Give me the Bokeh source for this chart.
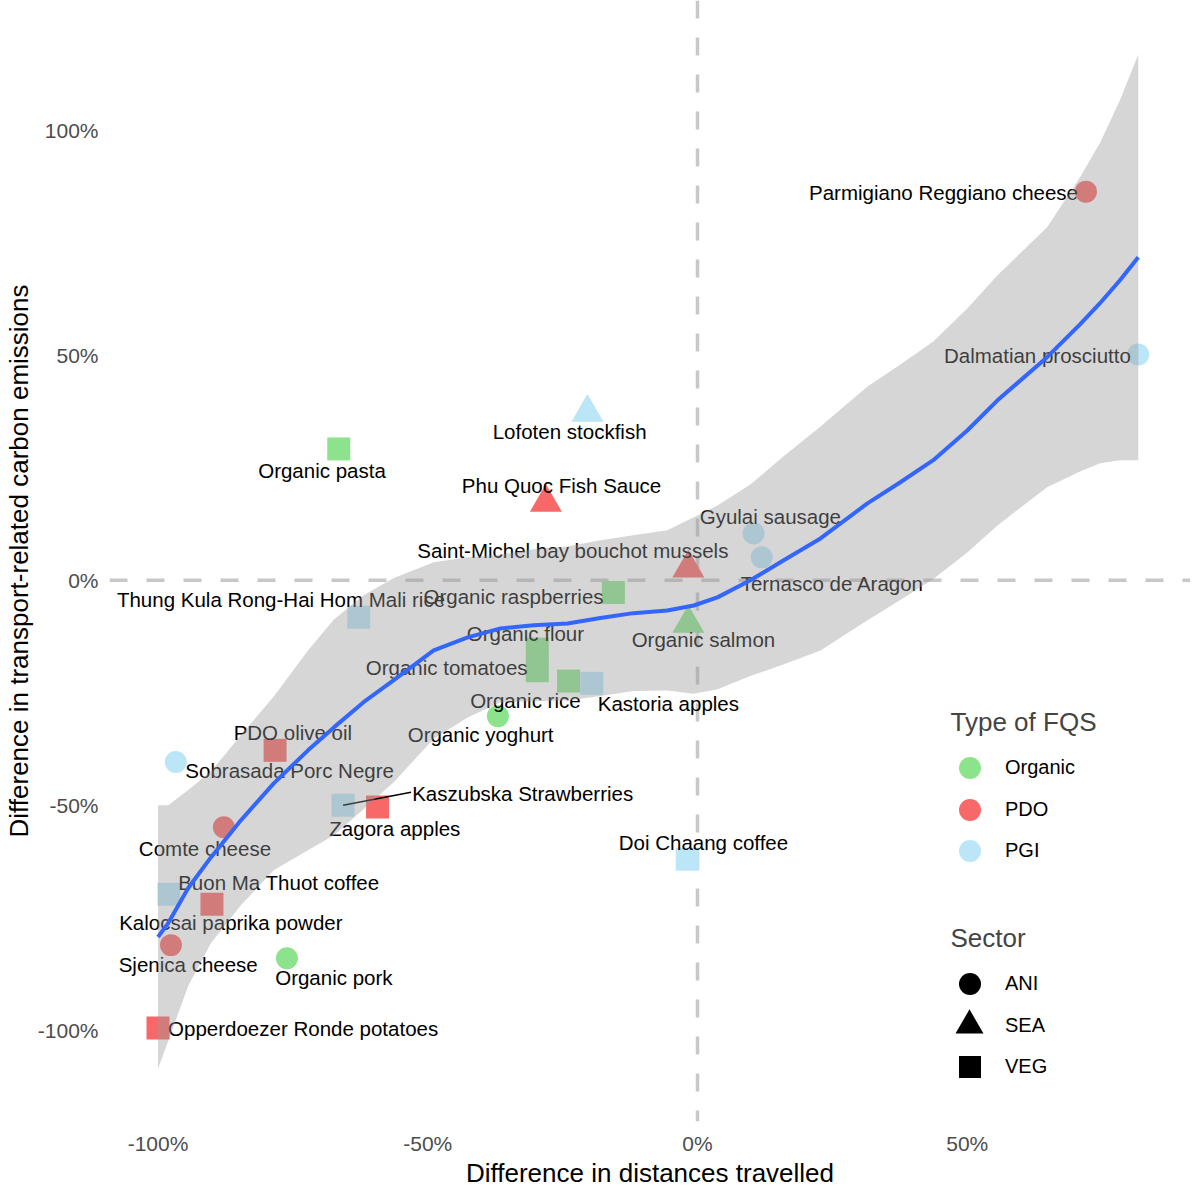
from bokeh.plotting import figure
from bokeh.models import (ColumnDataSource, Span, FixedTicker, NumeralTickFormatter,
                          Legend, LegendItem, Label)
from bokeh.core.properties import value
from bokeh.embed import file_html
from bokeh.resources import INLINE

FONT = "Liberation Sans"
NAN = float("nan")

# ---------------- data ----------------
names = ["Parmigiano Reggiano cheese", "Dalmatian prosciutto", "Lofoten stockfish",
         "Organic pasta", "Phu Quoc Fish Sauce", "Gyulai sausage", "Ternasco de Aragon",
         "Saint-Michel bay bouchot mussels", "Organic raspberries",
         "Thung Kula Rong-Hai Hom Mali rice", "Organic salmon", "Organic flour",
         "Organic tomatoes", "Organic rice", "Kastoria apples", "Organic yoghurt",
         "PDO olive oil", "Sobrasada Porc Negre", "Kaszubska Strawberries", "Zagora apples",
         "Comte cheese", "Buon Ma Thuot coffee", "Kalocsai paprika powder", "Sjenica cheese",
         "Organic pork", "Opperdoezer Ronde potatoes", "Doi Chaang coffee"]
fqs = ["PDO", "PGI", "PGI",
       "Organic", "PDO", "PGI", "PGI",
       "PDO", "Organic",
       "PGI", "Organic", "Organic",
       "Organic", "Organic", "PGI", "Organic",
       "PDO", "PGI", "PGI", "PDO",
       "PDO", "PGI", "PDO", "PDO",
       "Organic", "PDO", "PGI"]
sector = ["ANI", "ANI", "SEA",
          "VEG", "SEA", "ANI", "ANI",
          "SEA", "VEG",
          "VEG", "SEA", "VEG",
          "VEG", "VEG", "VEG", "ANI",
          "VEG", "ANI", "VEG", "VEG",
          "ANI", "VEG", "VEG", "ANI",
          "ANI", "VEG", "VEG"]
dist_diff = [0.720, 0.817, -0.204,
             -0.665, -0.281, 0.104, 0.119,
             -0.017, -0.156,
             -0.628, -0.017, -0.297,
             -0.297, -0.239, -0.196, -0.370,
             -0.783, -0.967, -0.657, -0.593,
             -0.878, -0.980, -0.900, -0.976,
             -0.761, -1.000, -0.019]
emis_diff = [0.864, 0.502, 0.373,
             0.292, 0.173, 0.104, 0.051,
             0.027, -0.027,
             -0.082, -0.096, -0.153,
             -0.201, -0.224, -0.229, -0.302,
             -0.378, -0.404, -0.500, -0.504,
             -0.549, -0.698, -0.720, -0.811,
             -0.840, -0.995, -0.620]
# label positions (repelled), centre of text
label_x = [0.456, 0.630, -0.237,
           -0.696, -0.252, 0.135, 0.250,
           -0.231, -0.341,
           -0.772, 0.011, -0.319,
           -0.465, -0.319, -0.054, -0.402,
           -0.750, -0.756, -0.324, -0.561,
           -0.913, -0.776, -0.865, -0.944,
           -0.674, -0.731, 0.011]
label_y = [0.862, 0.500, 0.331,
           0.244, 0.211, 0.142, -0.007,
           0.067, -0.036,
           -0.042, -0.131, -0.118,
           -0.193, -0.267, -0.273, -0.342,
           -0.338, -0.422, -0.473, -0.551,
           -0.596, -0.671, -0.760, -0.853,
           -0.884, -0.997, -0.582]
# leader segment for the Kaszubska Strawberries label
seg_from = [(-0.657, -0.500)]
seg_to = [(-0.531, -0.471)]

# loess smooth with its confidence band
smooth_x = [-1.000, -0.981, -0.944, -0.902, -0.846, -0.785, -0.722, -0.674, -0.619, -0.563,
            -0.489, -0.426, -0.365, -0.304, -0.241, -0.180, -0.119, -0.056, -0.007, 0.037,
            0.098, 0.159, 0.228, 0.315, 0.376, 0.437, 0.500, 0.556, 0.648, 0.709,
            0.746, 0.783, 0.817]
smooth_y = [-0.793, -0.762, -0.684, -0.616, -0.533, -0.451, -0.378, -0.327, -0.271, -0.222,
            -0.156, -0.127, -0.107, -0.100, -0.096, -0.084, -0.073, -0.067, -0.056, -0.038,
            0.000, 0.044, 0.093, 0.171, 0.218, 0.267, 0.333, 0.400, 0.496, 0.569,
            0.616, 0.667, 0.718]
smooth_lo = [-1.086, -1.024, -0.902, -0.807, -0.722, -0.644, -0.600, -0.567, -0.509, -0.449,
             -0.352, -0.305, -0.271, -0.269, -0.267, -0.257, -0.246, -0.245, -0.252, -0.242,
             -0.213, -0.187, -0.156, -0.089, -0.044, 0.003, 0.062, 0.122, 0.207, 0.242,
             0.260, 0.267, 0.267]
smooth_hi = [-0.500, -0.500, -0.466, -0.425, -0.344, -0.258, -0.156, -0.087, -0.033, 0.005,
             0.040, 0.051, 0.057, 0.069, 0.075, 0.089, 0.100, 0.111, 0.140, 0.166,
             0.213, 0.275, 0.342, 0.431, 0.480, 0.531, 0.604, 0.678, 0.785, 0.896,
             0.972, 1.067, 1.169]

fqs_levels = ["Organic", "PDO", "PGI"]
sector_levels = ["ANI", "SEA", "VEG"]
x_ticks = [-1.0, -0.5, 0.0, 0.5]
y_ticks = [-1.0, -0.5, 0.0, 0.5, 1.0]

# ---------------- styles ----------------
fqs_color = {"Organic": "#8CE38C", "PDO": "#F86868", "PGI": "#BBE6F8"}
sector_marker = {"ANI": "circle", "SEA": "triangle", "VEG": "square"}
sector_size = {"ANI": 22, "SEA": 32, "VEG": 23}

src = ColumnDataSource(dict(
    x=dist_diff, y=emis_diff, name=names,
    color=[fqs_color[f] for f in fqs],
    marker=[sector_marker[s] for s in sector],
    size=[sector_size[s] for s in sector],
))
lab_src = ColumnDataSource(dict(x=label_x, y=label_y, name=names))

p = figure(width=1190, height=1190,
           x_range=(-1.0899, 0.9138), y_range=(-1.2031, 1.2889),
           output_backend="svg", toolbar_location=None,
           min_border_left=0, min_border_right=0, min_border_top=0, min_border_bottom=0)
p.outline_line_color = None
p.grid.visible = False
p.background_fill_color = "white"

# dashed reference lines (beneath everything)
for dim in ("height", "width"):
    p.add_layout(Span(location=0, dimension=dim, line_color="#c8c8c8", line_width=3.5,
                      line_dash="18 19", level="underlay"))

# points
p.scatter("x", "y", source=src, marker="marker", size="size",
          fill_color="color", line_color=None)

# labels
p.text("x", "y", text="name", source=lab_src, text_font=value(FONT),
       text_font_size="20.5px", text_color="black", text_align="center",
       text_baseline="middle")
p.segment(x0=[a[0] for a in seg_from], y0=[a[1] for a in seg_from],
          x1=[b[0] for b in seg_to], y1=[b[1] for b in seg_to],
          line_color="black", line_width=1.5)

# confidence ribbon + smooth line
p.varea(x=smooth_x, y1=smooth_lo, y2=smooth_hi, fill_color="#999999", fill_alpha=0.4)
p.line(smooth_x, smooth_y, line_color="#3366FF", line_width=4)

# axes
for ax, ticks in ((p.xaxis, x_ticks), (p.yaxis, y_ticks)):
    ax.ticker = FixedTicker(ticks=ticks)
    ax.formatter = NumeralTickFormatter(format="0%")
    ax.axis_line_color = None
    ax.major_tick_line_color = None
    ax.major_tick_out = 0
    ax.major_tick_in = 0
    ax.minor_tick_line_color = None
    ax.minor_tick_out = 0
    ax.major_label_text_font = FONT
    ax.major_label_text_font_size = "21px"
    ax.major_label_text_color = "#4d4d4d"
    ax.axis_label_text_font = FONT
    ax.axis_label_text_font_size = "26px"
    ax.axis_label_text_font_style = "normal"
    ax.axis_label_text_color = "black"
p.xaxis.axis_label = "Difference in distances travelled"
p.yaxis.axis_label = "Difference in transport-related carbon emissions"
p.xaxis.major_label_standoff = 10
p.xaxis.axis_label_standoff = 0
p.yaxis.major_label_standoff = 11
p.yaxis.axis_label_standoff = 1

# legends: one Legend per key so that keys can be large and closely spaced
def add_key(label, marker, color, glyph, loc, standoff):
    r = p.scatter(x=[NAN], y=[NAN], marker=marker, size=22, fill_color=color, line_color=None)
    p.add_layout(Legend(items=[LegendItem(label=label, renderers=[r])], location=loc,
                        glyph_width=glyph, glyph_height=glyph, spacing=0,
                        label_standoff=standoff, padding=0, margin=0,
                        border_line_color=None, background_fill_alpha=0,
                        label_text_font=FONT, label_text_font_size="20px",
                        label_text_color="black"))

fqs_key_loc = [(833, 326), (833, 284), (833, 243)]
for t, loc in zip(fqs_levels, fqs_key_loc):
    add_key(t, "circle", fqs_color[t], 55, loc, 8)
sector_key = [("ANI", 55, (833, 110), 8), ("SEA", 70, (825, 61), 1), ("VEG", 55, (833, 27), 8)]
for s, g, loc, so in sector_key:
    add_key(s, sector_marker[s], "black", g, loc, so)

p.add_layout(Label(x=0.469, y=-0.316, text="Type of FQS", text_font=FONT,
                   text_font_size="26px", text_baseline="middle", text_align="left"))
p.add_layout(Label(x=0.469, y=-0.796, text="Sector", text_font=FONT,
                   text_font_size="26px", text_baseline="middle", text_align="left"))

open("out.html", "w").write(file_html(p, INLINE))
